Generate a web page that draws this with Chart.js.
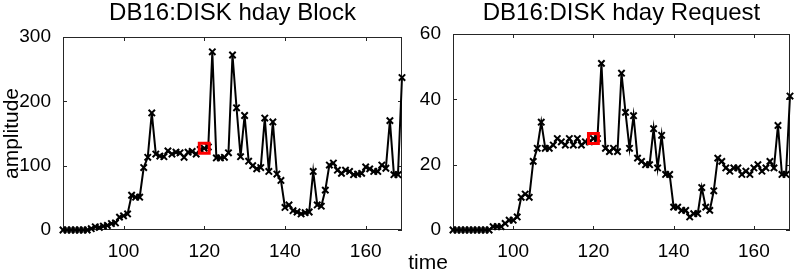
<!DOCTYPE html>
<html>
<head>
<meta charset="utf-8">
<script src="https://cdn.jsdelivr.net/npm/chart.js@4"></script>
<style>
  body { margin: 0; background: #fff; width: 800px; height: 270px; overflow: hidden; position: relative; }
  #left { position: absolute; left: 0; top: 0; }
  #right { position: absolute; left: 412px; top: 0; }
  #time { position: absolute; left: 388px; top: 251px; width: 80px; text-align: center;
          font: 21px "Liberation Sans", Arial, sans-serif; line-height: 21px; color: #000; }
</style>
</head>
<body>
<canvas id="left" width="412" height="270"></canvas>
<canvas id="right" width="388" height="270"></canvas>
<div id="time">time</div>
<script>
  // time axis (one sample per step)
  const timeSteps = [85, 86, 87, 88, 89, 90, 91, 92, 93, 94, 95, 96, 97, 98, 99,
    100, 101, 102, 103, 104, 105, 106, 107, 108, 109, 110, 111, 112, 113, 114, 115, 116, 117, 118, 119,
    120, 121, 122, 123, 124, 125, 126, 127, 128, 129, 130, 131, 132, 133, 134, 135, 136, 137, 138, 139,
    140, 141, 142, 143, 144, 145, 146, 147, 148, 149, 150, 151, 152, 153, 154, 155, 156, 157, 158, 159,
    160, 161, 162, 163, 164, 165, 166, 167, 168, 169];

  const blockValues = [0, 0, 0, 0, 0, 0, 0, 2, 5, 4, 6, 7, 10, 11, 20,
    22, 25, 54, 51, 51, 97, 113, 182, 118, 115, 114, 123, 118, 121, 120, 113, 121, 122, 118, 125,
    127, 129, 277, 112, 112, 113, 120, 272, 190, 114, 178, 107, 100, 95, 97, 174, 91, 168, 87, 77,
    35, 39, 30, 28, 25, 27, 28, 91, 39, 37, 62, 101, 104, 93, 88, 93, 91, 86, 87, 88,
    98, 95, 91, 91, 101, 96, 170, 86, 86, 237];

  const requestValues = [0, 0, 0, 0, 0, 0, 0, 0, 0, 0, 1, 1, 1, 2, 3,
    3, 4, 10, 11, 10, 21, 25, 33, 25, 25, 26, 28, 27, 26, 28, 26, 28, 26, 27, 27,
    28, 28, 51, 25, 24, 25, 24, 48, 36, 25, 35, 22, 21, 20, 20, 31, 19, 29, 17, 17,
    7, 7, 6, 6, 4, 5, 5, 13, 7, 6, 12, 22, 21, 19, 18, 19, 19, 17, 18, 17,
    19, 20, 18, 19, 21, 19, 32, 17, 17, 41];

  // highlighted sample (red square)
  const markerTime = [120];
  const blockMarker = [127];
  const requestMarker = [28];

  const xTicks = [100, 120, 140, 160];
  const blockTicks = [0, 100, 200, 300];
  const requestTicks = [0, 20, 40, 60];

  const fontFamily = '"Liberation Sans", Arial, sans-serif';

  const toPoints = (xs, ys) => xs.map((x, i) => ({ x: x, y: ys[i] }));

  // matlab style box with inward ticks
  const framePlugin = {
    id: 'frame',
    beforeDatasetsDraw(chart) {
      const { ctx, chartArea: a, scales: { x, y } } = chart;
      ctx.save();
      ctx.strokeStyle = '#262626';
      ctx.lineWidth = 1;
      ctx.strokeRect(Math.round(a.left) + 0.5, Math.round(a.top) + 0.5,
        Math.round(a.right - a.left) - 1, Math.round(a.bottom - a.top) - 1);
      ctx.beginPath();
      x.ticks.forEach(t => {
        let px = Math.round(x.getPixelForValue(t.value)) + 0.5;
        ctx.moveTo(px, a.bottom); ctx.lineTo(px, a.bottom - 4);
        ctx.moveTo(px, a.top); ctx.lineTo(px, a.top + 4);
      });
      y.ticks.forEach(t => {
        let py = Math.round(y.getPixelForValue(t.value)) + 0.5;
        ctx.moveTo(a.left, py); ctx.lineTo(a.left + 4, py);
        ctx.moveTo(a.right, py); ctx.lineTo(a.right - 4, py);
      });
      ctx.stroke();
      ctx.restore();
    }
  };

  function makeChart(id, title, values, marker, yTicks, yTitle, axisWidth, padRight, titleBottom) {
    return new Chart(document.getElementById(id), {
      type: 'line',
      data: {
        datasets: [{
          data: toPoints(markerTime, marker),
          showLine: false,
          pointStyle: 'rect',
          pointRadius: 7,
          pointBorderWidth: 3,
          pointBorderColor: '#ff0000',
          pointBackgroundColor: 'rgba(0,0,0,0)',
          order: 0,
          clip: false
        }, {
          data: toPoints(timeSteps, values),
          borderColor: '#000',
          borderWidth: 2,
          tension: 0,
          pointStyle: 'crossRot',
          pointRadius: 4.5,
          pointBorderWidth: 2,
          pointBorderColor: '#000',
          pointBackgroundColor: '#000',
          order: 1,
          clip: false
        }]
      },
      options: {
        responsive: false,
        animation: false,
        events: [],
        layout: { padding: { left: 0, right: padRight, top: 0, bottom: 0 } },
        plugins: {
          legend: { display: false },
          tooltip: { enabled: false },
          title: {
            display: true,
            text: title,
            fullSize: false,
            color: '#000',
            font: { family: fontFamily, size: 24, weight: 'normal', lineHeight: 1.1 },
            padding: { top: 0, bottom: titleBottom }
          }
        },
        scales: {
          x: {
            type: 'linear',
            min: timeSteps[0],
            max: timeSteps[timeSteps.length - 1],
            grid: { display: false },
            border: { display: false },
            afterBuildTicks: s => { s.ticks = xTicks.map(v => ({ value: v })); },
            afterFit: s => { s.height = 40; },
            ticks: { color: '#000', font: { family: fontFamily, size: 19 }, padding: 2, maxRotation: 0 }
          },
          y: {
            min: yTicks[0],
            max: yTicks[yTicks.length - 1],
            grid: { display: false },
            border: { display: false },
            afterBuildTicks: s => { s.ticks = yTicks.map(v => ({ value: v })); },
            afterFit: s => { s.width = axisWidth; },
            ticks: { color: '#000', font: { family: fontFamily, size: 19 }, padding: 4 },
            title: {
              display: !!yTitle,
              text: yTitle,
              color: '#000',
              font: { family: fontFamily, size: 21 },
              padding: 0
            }
          }
        }
      },
      plugins: [framePlugin]
    });
  }

  makeChart('left', 'DB16:DISK hday Block', blockValues, blockMarker, blockTicks, 'amplitude', 63, 5, 10.6);
  makeChart('right', 'DB16:DISK hday Request', requestValues, requestMarker, requestTicks, '', 41, 4, 7.6);
</script>
</body>
</html>
